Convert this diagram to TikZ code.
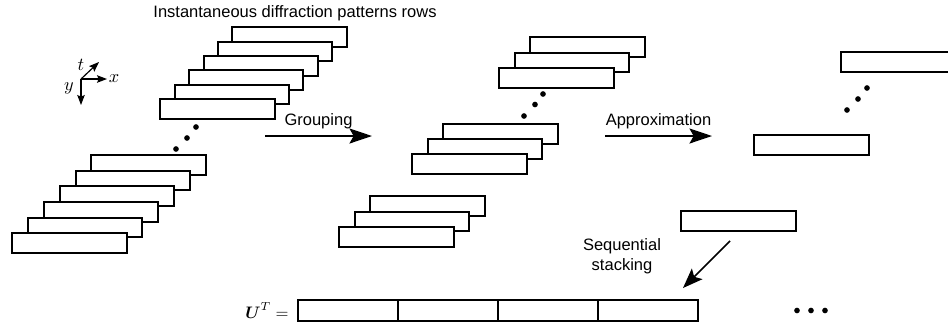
\documentclass[tikz,border=0pt]{standalone}
\usepackage{fontspec}
\setmainfont{Liberation Sans}
\usepackage{amsmath,amssymb}
\usetikzlibrary{arrows.meta,positioning}

\begin{document}
\begin{tikzpicture}[x=0.6pt,y=-0.6pt,font=\fontsize{9.9}{12}\selectfont,
    row/.style={draw,fill=white,line width=1.2pt,minimum width=68.5pt,minimum height=11.8pt,inner sep=0pt},
    cell/.style={draw,line width=1.2pt,minimum width=60pt,minimum height=12.4pt,inner sep=0pt},
    dotc/.style={fill,circle,inner sep=0pt,minimum size=3.4pt},
    bigarrow/.style={line width=1.3pt,-{Stealth[length=13.5pt,width=9pt,inset=2.5pt]}},
    axis/.style={line width=0.7pt,-{Stealth[length=6pt,width=4.5pt,inset=1pt]}}]
			\clip (0,0) rectangle (948,324);
			% axes
			\coordinate (o) at (81,79);
			\coordinate (ox) at (107,79);
			\coordinate (oy) at (81,105);
			\coordinate (ot) at (99,62);
			\draw[axis] (o) -- (ox);
			\draw[axis] (o) -- (oy);
			\draw[axis] (o) -- (ot);
			\node[font=\fontsize{10.5}{12}\selectfont] (lx) at (114,79) {$x$};
			\node[font=\fontsize{10.5}{12}\selectfont] (ly) at (69,88) {$y$};
			\node[font=\fontsize{10.5}{12}\selectfont] (lt) at (81,65) {$t$};
			\node (title) at (295,13) {Instantaneous diffraction patterns rows};
			% raw rows
			\foreach \i in {0,...,5}
				\node[row] (a\i) at (289.5-14.4*\i,37+14.4*\i) {};
			\node[dotc] (ad1) at (196,127) {};
			\node[dotc] (ad2) at (187,138) {};
			\node[dotc] (ad3) at (176,149) {};
			\foreach \i in {0,...,5}
				\node[row] (b\i) at (148.5-15.8*\i,165+15.6*\i) {};
			% grouped rows
			\foreach \i in {0,...,2}
				\node[row] (c\i) at (587.5-15.5*\i,47+15.5*\i) {};
			\node[dotc] (cd1) at (543,94) {};
			\node[dotc] (cd2) at (535,104.5) {};
			\node[dotc] (cd3) at (524,116) {};
			\foreach \i in {0,...,2}
				\node[row] (d\i) at (500.5-15.5*\i,134+15*\i) {};
			\foreach \i in {0,...,2}
				\node[row] (e\i) at (427.5-15.5*\i,206+15.5*\i) {};
			% approximated rows
			\node[row] (r1) at (898.5,62) {};
			\node[dotc] (rd1) at (867,88) {};
			\node[dotc] (rd2) at (858,99) {};
			\node[dotc] (rd3) at (847,110) {};
			\node[row] (r2) at (811.5,145) {};
			\node[row] (r3) at (738.5,221) {};
			% arrows
			\coordinate (g1) at (265,136);
			\coordinate (g2) at (372,136);
			\draw[bigarrow] (g1) -- node[above] (lg) {Grouping} (g2);
			\coordinate (p1) at (605,136);
			\coordinate (p2) at (712,136);
			\draw[bigarrow] (p1) -- node[above] (lp) {Approximation} (p2);
			\coordinate (s1) at (730,241);
			\coordinate (s2) at (683,288);
			\draw[line width=0.9pt,-{Stealth[length=12pt,width=9pt,inset=2.5pt]}] (s1) -- (s2);
			\node[align=center] (ls) at (622,256) {Sequential\\stacking};
			% stacked matrix
			\foreach \i in {1,...,4}
				\node[cell] (u\i) at (248+100*\i,310.5) {};
			\node[left=1.5pt of u1,font=\fontsize{10}{12}\selectfont] (ut) {$\boldsymbol{U}^T =$};
			\node[dotc] (ud1) at (797,310.5) {};
			\node[dotc] (ud2) at (811,310.5) {};
			\node[dotc] (ud3) at (825,310.5) {};
		\end{tikzpicture}
\end{document}
